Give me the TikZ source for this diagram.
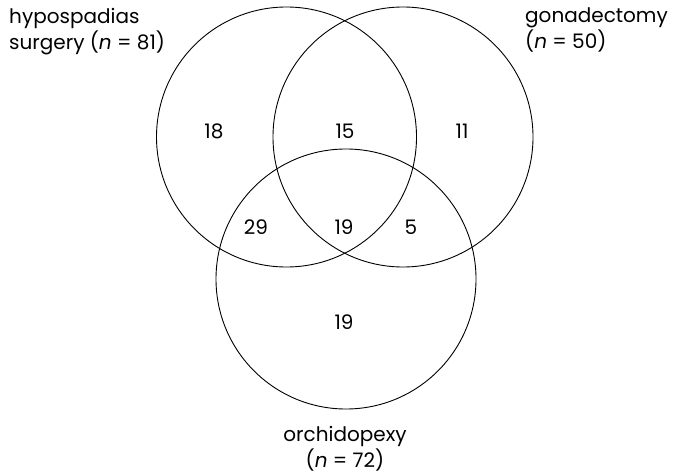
\documentclass[tikz,border=0pt]{standalone}
\usepackage{fontspec}
\setmainfont{Poppins}
\begin{document}
\begin{tikzpicture}[x=1pt,y=-1pt,
  ring/.style={draw=black,line width=0.9pt,circle,minimum size=260pt,inner sep=0pt},
  num/.style={font=\fontsize{20}{24}\selectfont,inner sep=0pt},
  lab/.style={font=\fontsize{20}{26}\selectfont,inner sep=0pt,align=#1},
  lab/.default=left]
\useasboundingbox (0,0) rectangle (676,473);
\node[ring] (A) at (286.5,137) {};
\node[ring] (B) at (403,137) {};
\node[ring] (C) at (346,279) {};
\node[num] (n1) at (214,131) {18};
\node[num] (n2) at (345,131) {15};
\node[num] (n3) at (462,131) {11};
\node[num] (n4) at (256,227) {29};
\node[num] (n5) at (344,227) {19};
\node[num] (n6) at (411,227) {5};
\node[num] (n7) at (344,322) {19};
\node[lab=left,anchor=north west] (la) at (9,8) {hypospadias\\surgery (\textit{n} = 81)};
\node[lab=left,anchor=north west] (lb) at (525,8) {gonadectomy\\(\textit{n} = 50)};
\node[lab=center,anchor=north] (lc) at (345,426) {orchidopexy\\(\textit{n} = 72)};
\end{tikzpicture}
\end{document}
